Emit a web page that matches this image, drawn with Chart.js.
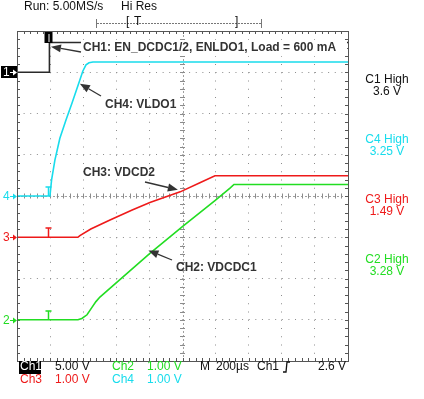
<!DOCTYPE html>
<html><head><meta charset="utf-8">
<script src="https://cdn.jsdelivr.net/npm/chart.js@4/dist/chart.umd.min.js"></script>
<style>html,body{margin:0;padding:0;background:#fff;}#wrap{width:424px;height:399px;position:relative}canvas{display:block}</style>
</head><body><div id="wrap"><canvas id="c" width="424" height="399"></canvas></div>
<script>
// ---- data (time in µs relative to trigger, voltage in V) ----
const ch1Time  = [-196, 0, 0, 1804];
const ch1Volts = [0, 0, 3.6, 3.6];
const ch4Time  = [-196, 3, 13, 33, 63, 100, 136, 172, 202, 221, 239, 263, 1804];
const ch4Volts = [0, 0, 0.39, 0.87, 1.40, 1.84, 2.25, 2.67, 3.03, 3.18, 3.23, 3.25, 3.25];
const ch3Time  = [-196, 172, 184, 250, 366, 500, 607, 790, 909, 1000, 1804];
const ch3Volts = [0, 0, 0.04, 0.2, 0.42, 0.66, 0.84, 1.10, 1.32, 1.49, 1.49];
const ch2Time  = [-196, 172, 196, 227, 257, 281, 305, 607, 807, 1000, 1091, 1115, 1140, 1804];
const ch2Volts = [0, 0, 0.03, 0.12, 0.30, 0.44, 0.55, 1.61, 2.27, 2.89, 3.19, 3.28, 3.28, 3.28];

const channelNames = ['Ch1', 'Ch2', 'Ch3', 'Ch4'];
const voltsPerDiv  = [5, 1, 1, 1];          // V/div for Ch1..Ch4
const groundDiv    = [3, -3, -1, 0];        // ground marker position in divisions
const highLabels   = ['C1 High', 'C4 High', 'C3 High', 'C2 High'];
const highValues   = ['3.6 V', '3.25 V', '1.49 V', '3.28 V'];
const timeTicks    = [-196, 4, 204, 404, 604, 804, 1004, 1204, 1404, 1604, 1804];
const divTicks     = [-4, -3, -2, -1, 0, 1, 2, 3, 4];
const annotations  = ['CH1: EN_DCDC1/2, ENLDO1, Load = 600 mA', 'CH4: VLDO1', 'CH3: VDCD2', 'CH2: VDCDC1'];

const COL = {ch1:'#2a2a2a', ch2:'#22dd22', ch3:'#ee1a1a', ch4:'#18dcec', grid:'#8c8c8c', frame:'#555', ann:'#333'};

function toDiv(ch, v){ return groundDiv[ch] + v / voltsPerDiv[ch]; }
function series(ch, ts, vs){ return ts.map((t,i)=>({x:t, y:toDiv(ch, vs[i])})); }

const FONT = '"Liberation Sans", Arial, sans-serif';

const scopePlugin = {
  id:'scope',
  beforeDatasetsDraw(chart){
    const ctx = chart.ctx, a = chart.chartArea;
    const xs = chart.scales.x, ys = chart.scales.y;
    const cx = xs.getPixelForValue(804), cy = ys.getPixelForValue(0);
    const dx = (a.right - a.left)/50, dy = (a.bottom - a.top)/40;
    ctx.save();
    // center cross dotted lines
    ctx.strokeStyle = '#a0a0a0'; ctx.lineWidth = 1;
    ctx.setLineDash([2,2]);
    ctx.beginPath(); ctx.moveTo(a.left, Math.round(cy)+0.5); ctx.lineTo(a.right, Math.round(cy)+0.5); ctx.stroke();
    ctx.beginPath(); ctx.moveTo(Math.round(cx)+0.5, a.top); ctx.lineTo(Math.round(cx)+0.5, a.bottom); ctx.stroke();
    ctx.setLineDash([]);
    ctx.strokeStyle = COL.grid;
    ctx.beginPath();
    for(let i=1;i<50;i++){ const x = Math.round(a.left + i*dx)+0.5; ctx.moveTo(x, cy-2.5); ctx.lineTo(x, cy+2.5); }
    for(let i=1;i<40;i++){ const y = Math.round(a.top + i*dy)+0.5; ctx.moveTo(cx-2.5, y); ctx.lineTo(cx+2.5, y); }
    ctx.stroke();
    // frame ticks
    ctx.strokeStyle = COL.frame;
    ctx.beginPath();
    for(let i=1;i<50;i++){ const x = Math.round(a.left + i*dx)+0.5; ctx.moveTo(x, a.top); ctx.lineTo(x, a.top+3); ctx.moveTo(x, a.bottom); ctx.lineTo(x, a.bottom-3); }
    for(let i=1;i<40;i++){ const y = Math.round(a.top + i*dy)+0.5; ctx.moveTo(a.left, y); ctx.lineTo(a.left+3, y); ctx.moveTo(a.right, y); ctx.lineTo(a.right-3, y); }
    ctx.stroke();
    ctx.restore();
  },
  afterDatasetsDraw(chart){
    const ctx = chart.ctx, a = chart.chartArea;
    const xs = chart.scales.x, ys = chart.scales.y;
    const px = t => xs.getPixelForValue(t);
    const py = (ch, v) => ys.getPixelForValue(toDiv(ch, v));
    ctx.save();
    // frame
    ctx.strokeStyle = COL.frame; ctx.lineWidth = 1;
    ctx.strokeRect(Math.round(a.left)+0.5, Math.round(a.top)+0.5, Math.round(a.right-a.left), Math.round(a.bottom-a.top));

    // trigger "I" markers on traces
    const tx = Math.round(px(0))-0.5;
    [[3,COL.ch4],[2,COL.ch3],[1,COL.ch2]].forEach(([ch,c])=>{
      const y = Math.round(py(ch,0));
      ctx.strokeStyle = c; ctx.lineWidth = 1.5;
      ctx.beginPath(); ctx.moveTo(tx, y); ctx.lineTo(tx, y-9); ctx.moveTo(tx-3, y-9); ctx.lineTo(tx+3, y-9); ctx.stroke();
    });
    // trigger position marker at top
    ctx.fillStyle = '#000'; ctx.fillRect(tx-4, a.top+1, 8, 11);
    ctx.strokeStyle = '#fff'; ctx.lineWidth = 1;
    ctx.beginPath(); ctx.moveTo(tx+0.5, a.top+3); ctx.lineTo(tx+0.5, a.top+11); ctx.stroke();

    // annotations
    ctx.font = 'bold 12px ' + FONT; ctx.textBaseline = 'middle'; ctx.textAlign = 'left';
    ctx.fillStyle = '#fff'; ctx.fillRect(81, 40, a.right - 81 - 1, 16);
    ctx.fillStyle = COL.ann;
    ctx.fillText(annotations[0], 83, 48);
    ctx.fillText(annotations[1], 105, 105);
    ctx.fillText(annotations[2], 83, 173);
    ctx.fillText(annotations[3], 176, 268);
    function arrow(x1,y1,x2,y2){
      const ang = Math.atan2(y2-y1, x2-x1), L = 10, W = 4;
      ctx.strokeStyle = COL.ann; ctx.fillStyle = COL.ann; ctx.lineWidth = 1.3;
      const bx = x2 - L*Math.cos(ang), by = y2 - L*Math.sin(ang);
      ctx.beginPath(); ctx.moveTo(x1,y1); ctx.lineTo(bx,by); ctx.stroke();
      ctx.beginPath(); ctx.moveTo(x2,y2);
      ctx.lineTo(bx + W*Math.sin(ang), by - W*Math.cos(ang));
      ctx.lineTo(bx - W*Math.sin(ang), by + W*Math.cos(ang));
      ctx.closePath(); ctx.fill();
    }
    arrow(81, 52, px(3)+1, py(0, 3.1));
    arrow(101, 96, px(184), py(3, 2.72));
    arrow(145, 182, px(776), py(2, 1.15));
    arrow(172, 260, px(598), py(1, 1.68));

    // left ground markers
    const gy1 = Math.round(py(0,0));
    ctx.fillStyle = '#000'; ctx.fillRect(1, gy1-6, 16, 12);
    function gmark(label, y, color){
      ctx.font = '12px ' + FONT; ctx.textAlign='left'; ctx.textBaseline='middle';
      ctx.fillStyle = color; ctx.fillText(label, 3, y+0.5);
      ctx.strokeStyle = color; ctx.fillStyle = color; ctx.lineWidth = 1;
      ctx.beginPath(); ctx.moveTo(10, y+0.5); ctx.lineTo(15, y+0.5); ctx.stroke();
      ctx.beginPath(); ctx.moveTo(17, y+0.5); ctx.lineTo(13, y-2.5); ctx.lineTo(13, y+3.5); ctx.closePath(); ctx.fill();
    }
    gmark('1', gy1, '#fff');
    gmark('4', Math.round(py(3,0)), COL.ch4);
    gmark('3', Math.round(py(2,0)), COL.ch3);
    gmark('2', Math.round(py(1,0)), COL.ch2);

    // right side labels
    ctx.font = '12px ' + FONT; ctx.textAlign = 'center'; ctx.textBaseline = 'middle';
    const rc = ['#111', COL.ch4, COL.ch3, COL.ch2];
    const ry = [80, 140, 200, 260];
    for(let i=0;i<4;i++){
      ctx.fillStyle = rc[i];
      ctx.fillText(highLabels[i], 387, ry[i]);
      ctx.fillText(highValues[i], 387, ry[i]+12);
    }

    // top status
    ctx.textAlign = 'left'; ctx.fillStyle = '#111';
    ctx.fillText('Run: 5.00MS/s', 24, 7);
    ctx.fillText('Hi Res', 121, 7);
    ctx.strokeStyle = '#777'; ctx.lineWidth = 1; ctx.setLineDash([2,1]);
    ctx.beginPath(); ctx.moveTo(97, 23.5); ctx.lineTo(261, 23.5); ctx.stroke();
    ctx.setLineDash([]);
    ctx.beginPath(); ctx.moveTo(96.5, 19); ctx.lineTo(96.5, 28); ctx.moveTo(261.5, 19); ctx.lineTo(261.5, 28); ctx.stroke();
    ctx.fillStyle = '#111';
    ctx.fillText('[', 126, 22); ctx.fillText('T', 134, 22); ctx.fillText(']', 235, 22);

    // bottom status
    const r1 = 367, r2 = 380;
    ctx.fillStyle = '#000'; ctx.fillRect(19, r1-6, 22, 13);
    ctx.fillStyle = '#fff'; ctx.fillText(channelNames[0], 20, r1);
    ctx.fillStyle = '#111'; ctx.fillText(voltsPerDiv[0].toFixed(2)+' V', 55, r1);
    ctx.fillStyle = COL.ch2; ctx.fillText(channelNames[1], 112, r1); ctx.fillText(voltsPerDiv[1].toFixed(2)+' V', 147, r1);
    ctx.fillStyle = '#111'; ctx.fillText('M', 200, r1); ctx.fillText('200\u00b5s', 216, r1); ctx.fillText('Ch1', 257, r1);
    ctx.fillText('2.6 V', 318, r1);
    ctx.strokeStyle = '#111'; ctx.lineWidth = 1.3;
    ctx.beginPath(); ctx.moveTo(283, r1+5); ctx.lineTo(286, r1+5); ctx.lineTo(287, r1-5); ctx.lineTo(290, r1-5); ctx.stroke();
    ctx.fillStyle = COL.ch3; ctx.fillText(channelNames[2], 20, r2); ctx.fillText(voltsPerDiv[2].toFixed(2)+' V', 55, r2);
    ctx.fillStyle = COL.ch4; ctx.fillText(channelNames[3], 112, r2); ctx.fillText(voltsPerDiv[3].toFixed(2)+' V', 147, r2);
    ctx.restore();
  }
};

const ds = (label, data, color, w) => ({label, data, borderColor: color, borderWidth: w, pointRadius: 0, tension: 0, fill: false});

new Chart(document.getElementById('c'), {
  type: 'line',
  data: { datasets: [
    ds('CH1', series(0, ch1Time, ch1Volts), COL.ch1, 1.6),
    ds('CH4', series(3, ch4Time, ch4Volts), COL.ch4, 1.6),
    ds('CH3', series(2, ch3Time, ch3Volts), COL.ch3, 1.6),
    ds('CH2', series(1, ch2Time, ch2Volts), COL.ch2, 1.6)
  ]},
  options: {
    responsive: false, animation: false, devicePixelRatio: 1,
    layout: { padding: { left: 17, top: 31, right: 76, bottom: 38 } },
    plugins: { legend: { display: false }, tooltip: { enabled: false } },
    scales: {
      x: { type: 'linear', min: timeTicks[0], max: timeTicks[timeTicks.length-1],
           afterBuildTicks: s => { s.ticks = timeTicks.map(v => ({value: v})); },
           afterFit: s => { s.height = 0; },
           ticks: { display: false },
           border: { display: false, dash: [1, 7.25], dashOffset: 0 },
           grid: { color: COL.grid, lineWidth: 1, drawTicks: false } },
      y: { type: 'linear', min: divTicks[0], max: divTicks[divTicks.length-1],
           afterBuildTicks: s => { s.ticks = divTicks.map(v => ({value: v})); },
           afterFit: s => { s.width = 0; },
           ticks: { display: false },
           border: { display: false, dash: [1, 5.62], dashOffset: 0 },
           grid: { color: COL.grid, lineWidth: 1, drawTicks: false } }
    }
  },
  plugins: [scopePlugin]
});
</script>
</body></html>
